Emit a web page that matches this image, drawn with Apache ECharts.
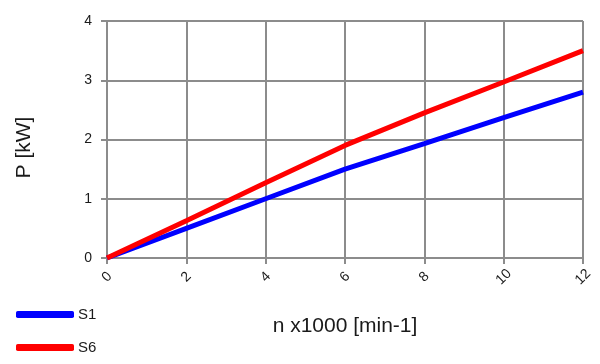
<!DOCTYPE html>
<html><head><meta charset="utf-8">
<script src="https://cdn.jsdelivr.net/npm/echarts@6/dist/echarts.min.js"></script>
<style>html,body{margin:0;padding:0;background:#fff}#c{width:600px;height:364px}</style>
</head><body><div id="c"></div>
<script>
const xValues = [0, 2, 4, 6, 8, 10, 12];
const s1Values = [0, 0.5, 1.0, 1.5, 1.93, 2.37, 2.8];
const s6Values = [0, 0.63, 1.27, 1.9, 2.45, 2.97, 3.5];
const seriesNames = ['S1', 'S6'];
const xName = 'n x1000 [min-1]';
const yName = 'P [kW]';

const chart = echarts.init(document.getElementById('c'), null, {renderer: 'canvas'});
const gridColor = '#8c8c8c';
const font = 'Liberation Sans, Arial, sans-serif';
const txt = '#1a1a1a';
chart.setOption({
  animation: false,
  textStyle: {fontFamily: font},
  grid: {left: 107, right: 17, top: 21, bottom: 106, containLabel: false},
  legend: {
    orient: 'vertical', left: 16, top: 307, padding: 0, itemWidth: 58, itemHeight: 7, itemGap: 18,
    icon: 'roundRect',
    textStyle: {fontSize: 15, color: txt, fontFamily: font, padding: [0, 0, 0, -1]},
    data: seriesNames
  },
  xAxis: {
    type: 'value', min: 0, max: 12, interval: 2,
    name: xName, nameLocation: 'middle', nameGap: 58,
    nameTextStyle: {fontSize: 21, color: txt, fontFamily: font},
    axisLine: {show: true, lineStyle: {color: gridColor, width: 2}},
    axisTick: {show: true, length: 6, lineStyle: {color: gridColor, width: 2}},
    axisLabel: {rotate: 45, fontSize: 14, color: txt, margin: 19, align: 'center', verticalAlign: 'middle', fontFamily: font},
    splitLine: {show: true, lineStyle: {color: gridColor, width: 2}}
  },
  yAxis: {
    type: 'value', min: 0, max: 4, interval: 1,
    name: yName, nameLocation: 'middle', nameGap: 72, nameRotate: 90,
    nameTextStyle: {fontSize: 21, color: txt, fontFamily: font, padding: [0, 16, 0, 0]},
    axisLine: {show: true, lineStyle: {color: gridColor, width: 2}},
    axisTick: {show: true, length: 6, lineStyle: {color: gridColor, width: 2}},
    axisLabel: {fontSize: 14, color: txt, margin: 15, fontFamily: font},
    splitLine: {show: true, lineStyle: {color: gridColor, width: 2}}
  },
  series: [
    {name: seriesNames[0], type: 'line', data: xValues.map((x, i) => [x, s1Values[i]]),
     showSymbol: false, symbol: 'none', lineStyle: {color: '#0000ff', width: 5}, itemStyle: {color: '#0000ff'}},
    {name: seriesNames[1], type: 'line', data: xValues.map((x, i) => [x, s6Values[i]]),
     showSymbol: false, symbol: 'none', lineStyle: {color: '#ff0000', width: 5}, itemStyle: {color: '#ff0000'}}
  ]
});
</script></body></html>
